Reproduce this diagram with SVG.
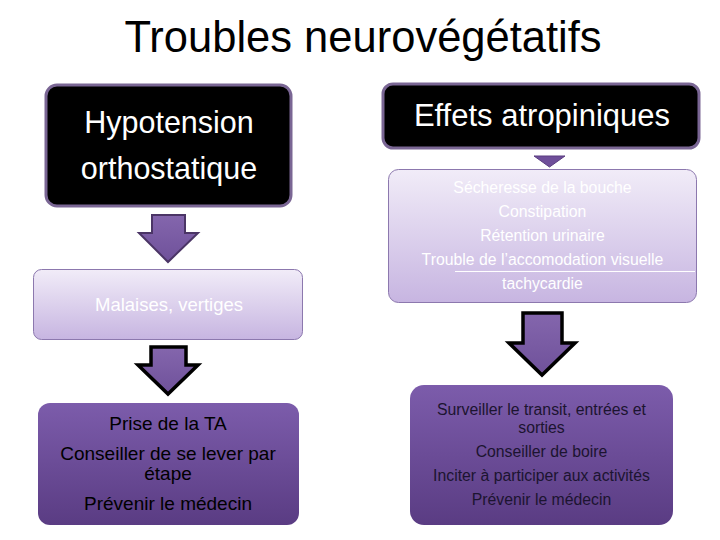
<svg xmlns="http://www.w3.org/2000/svg" width="720" height="540" viewBox="0 0 720 540">
  <defs>
    <linearGradient id="gLight" x1="0" y1="0" x2="0" y2="1">
      <stop offset="0" stop-color="#f1ecf8"/>
      <stop offset="1" stop-color="#c7b5e1"/>
    </linearGradient>
    <linearGradient id="gDark" x1="0" y1="0" x2="0" y2="1">
      <stop offset="0" stop-color="#7c5cab"/>
      <stop offset="1" stop-color="#5a3c83"/>
    </linearGradient>
    <linearGradient id="gArrow" x1="0" y1="0" x2="0" y2="1">
      <stop offset="0" stop-color="#8466ad"/>
      <stop offset="1" stop-color="#6f519a"/>
    </linearGradient>
    <style>
      text { font-family: "Liberation Sans", Arial, sans-serif; text-anchor: middle; }
      .black { fill: #000; stroke: #7a6694; stroke-width: 3; }
      .light { fill: url(#gLight); stroke: #8c78ae; stroke-width: 1; }
      .dark { fill: url(#gDark); stroke: none; }
      .wt { fill: #fff; }
      .arrowA { fill: url(#gArrow); stroke: #4b3566; stroke-width: 2; stroke-linejoin: miter; }
      .arrowB { fill: url(#gArrow); stroke: #000; stroke-width: 3.5; stroke-linejoin: miter; }
    </style>
  </defs>
  <rect width="720" height="540" fill="#fff"/>

  <text id="title" x="363" y="52" font-size="43.5" fill="#000">Troubles neurovégétatifs</text>

  <g id="connectors">
    <polygon class="arrowA" points="152,215 185,215 185,233 198,233 168,262 139,233 152,233"/>
    <polygon class="arrowB" points="151,347 186,347 186,365 198,365 168,394 138,365 151,365"/>
    <polygon fill="#6f4f9a" stroke="#5a3d80" stroke-width="1" points="534,156 565,156 549.5,167"/>
    <polygon class="arrowB" points="523,313 562,313 562,343 575,343 542,375 509,343 523,343"/>
  </g>

  <g id="node-hypotension">
    <rect class="black" x="46" y="85" width="245" height="121" rx="11"/>
    <text class="wt" x="169" y="133" font-size="30.5">Hypotension</text>
    <text class="wt" x="169" y="179" font-size="30.5">orthostatique</text>
  </g>

  <g id="node-malaises">
    <rect class="light" x="33.5" y="269.5" width="269" height="70" rx="8"/>
    <text class="wt" x="169" y="311" font-size="18.5">Malaises, vertiges</text>
  </g>

  <g id="node-prise">
    <rect class="dark" x="38" y="403" width="261" height="122" rx="12"/>
    <text x="168" y="430" font-size="19" fill="#000">Prise de la TA</text>
    <text x="168" y="460" font-size="19" fill="#000">Conseiller de se lever par</text>
    <text x="168" y="480" font-size="19" fill="#000">étape</text>
    <text x="168" y="510" font-size="19" fill="#000">Prévenir le médecin</text>
  </g>

  <g id="node-effets">
    <rect class="black" x="383" y="84" width="316" height="64" rx="10"/>
    <text class="wt" x="542" y="126" font-size="31">Effets atropiniques</text>
  </g>

  <g id="node-secheresse">
    <rect class="light" x="388.5" y="169.5" width="308" height="133" rx="10"/>
    <text class="wt" x="542.5" y="193" font-size="15.8">Sécheresse de la bouche</text>
    <text class="wt" x="542.5" y="217" font-size="15.8">Constipation</text>
    <text class="wt" x="542.5" y="241" font-size="15.8">Rétention urinaire</text>
    <text class="wt" x="542.5" y="265" font-size="15.8">Trouble de l’accomodation visuelle</text>
    <line x1="455" y1="271.5" x2="695" y2="271.5" stroke="#fff" stroke-width="1"/>
    <text class="wt" x="542.5" y="289" font-size="15.8">tachycardie</text>
  </g>

  <g id="node-surveiller">
    <rect class="dark" x="410" y="385" width="263" height="140" rx="14"/>
    <text x="541.5" y="415" font-size="15.8" fill="#1c1430">Surveiller le transit, entrées et</text>
    <text x="541.5" y="433" font-size="15.8" fill="#1c1430">sorties</text>
    <text x="541.5" y="457" font-size="15.8" fill="#1c1430">Conseiller de boire</text>
    <text x="541.5" y="481" font-size="15.8" fill="#1c1430">Inciter à participer aux activités</text>
    <text x="541.5" y="505" font-size="15.8" fill="#1c1430">Prévenir le médecin</text>
  </g>
</svg>
